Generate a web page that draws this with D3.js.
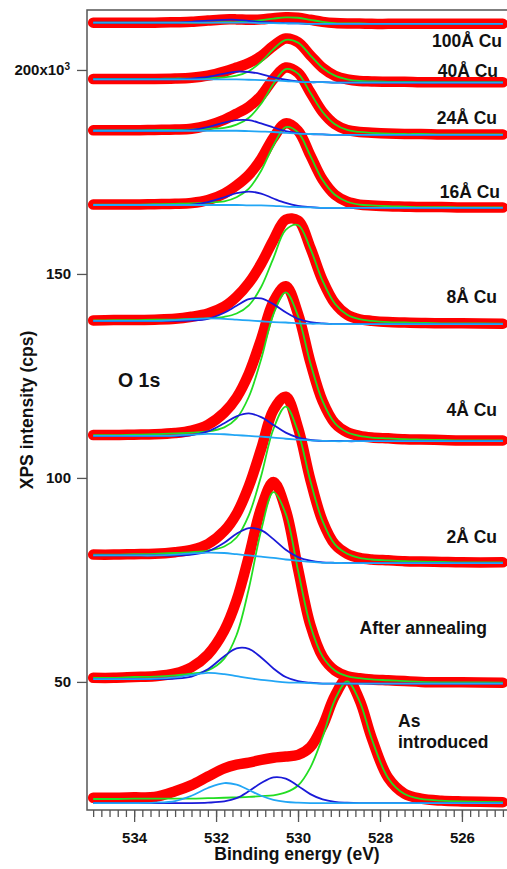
<!DOCTYPE html>
<html>
<head>
<meta charset="utf-8">
<script src="https://cdn.jsdelivr.net/npm/d3@7"></script>
<style>
  body { margin: 0; background: #fff; }
  text { font-family: "Liberation Sans", Arial, sans-serif; font-weight: bold; fill: #111; }
</style>
</head>
<body>
<svg id="chart" width="507" height="869"></svg>
<script>
// Binding energy grid (eV), shared by every trace
const energy = [535, 534.5, 534, 533.5, 533, 532.6, 532.2, 531.8, 531.5, 531.2, 530.9, 530.6, 530.3,
  530.0, 529.7, 529.4, 529.1, 528.8, 528.5, 528.2, 527.8, 527.4, 527.0, 526.5, 526.0, 525.0];

// spectra from bottom to top
const sampleLabels = ["As\nintroduced", "After annealing", "2Å Cu", "4Å Cu", "8Å Cu", "16Å Cu", "24Å Cu", "40Å Cu", "100Å Cu"];

// measured O 1s intensity (x10^3 cps)
const measured = [
  [21.6,21.6,21.7,21.8,23.2,24.7,26.8,28.8,29.7,30.2,30.9,31.4,31.7,32.1,34.0,39.2,46.6,50.8,45.6,36.2,26.5,22.6,21.4,20.9,20.7,20.5],
  [51.0,51.0,51.2,51.4,52.1,53.6,56.7,62.6,70.0,80.8,92.6,99.0,92.2,77.7,64.0,56.2,52.8,51.4,50.9,50.6,50.4,50.2,50.0,49.9,49.9,49.8],
  [81.2,81.2,81.3,81.4,81.8,82.4,83.8,87.0,91.2,98.0,107.1,116.6,119.9,112.3,99.6,89.4,83.7,81.4,80.4,80.0,79.8,79.6,79.5,79.4,79.3,79.3],
  [110.5,110.5,110.6,110.7,111.0,111.6,113.0,116.0,119.7,125.6,134.0,143.2,147.0,140.2,128.4,118.8,113.4,111.2,110.3,109.9,109.7,109.5,109.4,109.3,109.2,109.2],
  [138.6,138.7,138.7,138.8,139.0,139.5,140.3,142.0,144.4,147.8,152.5,158.3,163.3,163.1,156.5,148.4,142.8,140.0,138.9,138.5,138.2,138.1,138.0,137.9,137.9,137.8],
  [167.0,167.0,167.0,167.1,167.2,167.4,168.1,169.7,171.7,174.3,178.2,183.4,186.9,185.1,179.1,173.1,169.4,167.7,167.0,166.8,166.6,166.5,166.4,166.4,166.3,166.3],
  [185.2,185.2,185.2,185.3,185.4,185.6,186.4,187.8,189.3,191.0,193.7,197.8,200.6,199.3,194.5,189.7,186.7,185.3,184.8,184.6,184.4,184.3,184.3,184.2,184.2,184.2],
  [197.8,197.8,197.8,197.8,197.9,198.1,198.6,199.6,200.6,201.7,203.4,205.9,207.7,206.8,203.6,200.5,198.6,197.7,197.3,197.2,197.1,197.1,197.0,197.0,197.0,197.0],
  [211.6,211.6,211.6,211.6,211.7,211.8,212.1,212.4,212.4,212.3,212.4,212.7,212.9,212.8,212.3,211.8,211.5,211.4,211.4,211.3,211.3,211.3,211.3,211.3,211.3,211.3]
];

// main fitted component (green)
const mainPeak = [
  [21.3,21.3,21.4,21.4,21.4,21.4,21.5,21.6,21.7,21.8,22.0,22.2,22.9,24.6,29.0,36.5,45.6,50.1,45.3,36.0,26.4,22.5,21.3,20.9,20.7,20.5],
  [51.0,51.0,51.2,51.3,51.6,52.0,52.8,55.7,61.5,72.9,87.1,96.5,91.2,77.3,63.9,56.2,52.8,51.4,50.9,50.6,50.4,50.2,50.0,49.9,49.9,49.8],
  [81.2,81.2,81.3,81.4,81.6,81.8,82.2,83.2,85.4,90.9,100.5,112.0,117.5,111.3,99.3,89.4,83.7,81.4,80.4,80.0,79.8,79.6,79.5,79.4,79.3,79.3],
  [110.5,110.5,110.6,110.7,110.9,111.1,111.4,112.4,114.6,119.9,129.1,140.1,145.5,139.7,128.2,118.8,113.4,111.2,110.3,109.9,109.7,109.5,109.4,109.3,109.2,109.2],
  [138.6,138.7,138.7,138.8,138.8,139.0,139.1,139.5,140.3,142.3,146.8,153.9,160.8,162.0,156.2,148.3,142.7,140.0,138.9,138.5,138.2,138.1,138.0,137.9,137.9,137.8],
  [167.0,167.0,167.0,167.1,167.2,167.3,167.5,167.8,168.8,170.9,175.3,181.5,186.0,184.7,179.0,173.0,169.4,167.7,167.0,166.8,166.6,166.5,166.4,166.4,166.3,166.3],
  [185.2,185.2,185.2,185.3,185.3,185.4,185.6,185.8,186.6,188.3,191.7,196.6,200.2,199.1,194.4,189.7,186.7,185.3,184.8,184.6,184.4,184.3,184.3,184.2,184.2,184.2],
  [197.8,197.8,197.8,197.8,197.9,197.9,198.0,198.2,198.6,199.7,202.0,205.1,207.4,206.7,203.6,200.5,198.6,197.7,197.3,197.2,197.1,197.1,197.0,197.0,197.0,197.0],
  [211.6,211.6,211.6,211.6,211.6,211.6,211.6,211.7,211.7,211.9,212.2,212.6,212.9,212.8,212.3,211.8,211.5,211.4,211.4,211.3,211.3,211.3,211.3,211.3,211.3,211.3]
];

// second component (dark blue)
const secondPeak = [
  [20.3,20.3,20.3,20.3,20.3,20.3,20.4,20.7,21.5,23.2,25.2,26.6,26.3,24.5,22.5,21.2,20.6,20.4,20.3,20.3,20.3,20.3,20.3,20.3,20.3,20.3],
  [50.7,50.7,50.7,50.7,50.8,51.3,53.1,56.3,58.2,58.1,56.0,53.3,51.2,50.2,49.8,49.6,49.6,49.6,49.6,49.6,49.6,49.6,49.6,49.6,49.6,49.6],
  [81.0,81.0,81.0,81.0,81.0,81.2,82.0,84.1,86.3,87.7,87.2,85.0,82.4,80.6,79.7,79.3,79.2,79.1,79.1,79.1,79.1,79.1,79.1,79.1,79.1,79.1],
  [110.3,110.3,110.3,110.3,110.3,110.5,111.4,113.4,115.1,115.8,114.9,113.0,111.1,109.9,109.3,109.1,109.1,109.0,109.0,109.0,109.0,109.0,109.0,109.0,109.0,109.0],
  [138.5,138.5,138.5,138.5,138.5,138.6,139.0,140.5,142.2,143.8,144.0,142.6,140.6,139.0,138.2,137.9,137.7,137.7,137.7,137.7,137.7,137.7,137.7,137.7,137.7,137.7],
  [166.9,166.9,166.9,166.9,166.9,167.0,167.6,168.8,169.8,170.2,169.7,168.5,167.4,166.7,166.4,166.2,166.2,166.2,166.2,166.2,166.2,166.2,166.2,166.2,166.2,166.2],
  [185.1,185.1,185.1,185.1,185.1,185.3,186.0,187.1,187.7,187.7,186.9,185.9,185.0,184.5,184.3,184.2,184.1,184.1,184.1,184.1,184.1,184.1,184.1,184.1,184.1,184.1],
  [197.7,197.7,197.7,197.7,197.7,197.9,198.3,199.1,199.6,199.5,199.0,198.2,197.6,197.2,197.0,197.0,196.9,196.9,196.9,196.9,196.9,196.9,196.9,196.9,196.9,196.9],
  [211.6,211.6,211.6,211.6,211.6,211.8,212.1,212.3,212.3,212.0,211.8,211.6,211.5,211.4,211.3,211.3,211.3,211.3,211.3,211.3,211.3,211.3,211.3,211.3,211.3,211.3]
];

// background + small high-BE component (light blue)
const background = [
  [20.3,20.3,20.3,20.4,20.8,22.1,24.0,25.2,24.8,23.5,22.1,21.1,20.6,20.4,20.3,20.3,20.3,20.3,20.3,20.3,20.3,20.3,20.3,20.3,20.3,20.3],
  [50.7,50.7,50.7,50.8,51.1,51.7,52.2,51.9,51.4,50.9,50.5,50.2,49.9,49.8,49.7,49.6,49.6,49.6,49.6,49.6,49.6,49.6,49.6,49.6,49.6,49.6],
  [81.0,81.0,81.0,81.0,81.2,81.5,81.7,81.6,81.3,81.0,80.7,80.4,80.0,79.7,79.4,79.2,79.2,79.1,79.1,79.1,79.1,79.1,79.1,79.1,79.1,79.1],
  [110.3,110.3,110.3,110.3,110.4,110.6,110.8,110.7,110.5,110.3,110.1,109.9,109.6,109.4,109.2,109.1,109.0,109.0,109.0,109.0,109.0,109.0,109.0,109.0,109.0,109.0],
  [138.5,138.5,138.5,138.5,138.7,138.9,139.1,139.0,138.8,138.6,138.4,138.2,138.1,137.9,137.8,137.8,137.7,137.7,137.7,137.7,137.7,137.7,137.7,137.7,137.7,137.7],
  [166.9,166.9,166.9,166.9,166.9,166.9,166.9,166.9,166.9,166.8,166.8,166.7,166.5,166.4,166.3,166.2,166.2,166.2,166.2,166.2,166.2,166.2,166.2,166.2,166.2,166.2],
  [185.1,185.1,185.1,185.1,185.1,185.1,185.1,185.1,185.1,185.0,184.9,184.8,184.6,184.4,184.3,184.2,184.1,184.1,184.1,184.1,184.1,184.1,184.1,184.1,184.1,184.1],
  [197.7,197.7,197.7,197.7,197.7,197.7,197.7,197.7,197.7,197.6,197.5,197.4,197.3,197.1,197.0,197.0,196.9,196.9,196.9,196.9,196.9,196.9,196.9,196.9,196.9,196.9],
  [211.6,211.6,211.6,211.6,211.6,211.6,211.6,211.6,211.6,211.6,211.5,211.5,211.4,211.4,211.3,211.3,211.3,211.3,211.3,211.3,211.3,211.3,211.3,211.3,211.3,211.3]
];

const xTickLabels = [534, 532, 530, 528, 526];
const yTickLabels = [50, 100, 150, 200];

// ---- layout ----
const svg = d3.select("#chart");
const m = { left: 87, right: 507, top: 10, bottom: 810 };

const x = d3.scaleLinear().domain([535.15, 524.9]).range([m.left, m.right]);
const y = d3.scaleLinear().domain([18.6, 214.7]).range([m.bottom, m.top]);

const line = d3.line()
  .x((d, i) => x(energy[i]))
  .y(d => y(d))
  .curve(d3.curveCatmullRom.alpha(0.5));

const plot = svg.append("g");

// measured data first (thick red), fits on top
plot.selectAll(".data").data(measured).enter().append("path")
  .attr("d", line).attr("fill", "none")
  .attr("stroke", "#ff0000").attr("stroke-width", 10.5)
  .attr("stroke-linejoin", "round").attr("stroke-linecap", "round");

plot.selectAll(".main").data(mainPeak).enter().append("path")
  .attr("d", line).attr("fill", "none")
  .attr("stroke", "#22dd22").attr("stroke-width", 1.8);

plot.selectAll(".second").data(secondPeak).enter().append("path")
  .attr("d", line).attr("fill", "none")
  .attr("stroke", "#1a1ad8").attr("stroke-width", 1.8);

plot.selectAll(".bg").data(background).enter().append("path")
  .attr("d", line).attr("fill", "none")
  .attr("stroke", "#22a6f5").attr("stroke-width", 1.8);

// axes
const axisColor = "#555";

const xMinor = svg.append("g").attr("transform", `translate(0,${m.bottom})`)
  .call(d3.axisBottom(x).tickValues(d3.range(0, 51).map(i => 525 + i * 0.2))
    .tickSize(7).tickSizeOuter(0).tickFormat(""));
const xMajor = svg.append("g").attr("transform", `translate(0,${m.bottom})`)
  .call(d3.axisBottom(x).tickValues(xTickLabels).tickSize(12).tickSizeOuter(0).tickPadding(10));
xMajor.selectAll("text").attr("font-size", 15);

const yAxis = svg.append("g").attr("transform", `translate(${m.left},0)`)
  .call(d3.axisLeft(y).tickValues(yTickLabels).tickSize(10).tickSizeOuter(0).tickPadding(6)
    .tickFormat(d => d === 200 ? "" : d));
yAxis.selectAll("text").attr("font-size", 15);

[xMinor, xMajor, yAxis].forEach(g => {
  g.select(".domain").remove();
  g.selectAll("line").attr("stroke", axisColor).attr("stroke-width", 1.3);
  g.selectAll("text").attr("fill", "#111").attr("font-family", null);
});

// frame: top, left, bottom
svg.append("path")
  .attr("d", `M${m.right},${m.top}H${m.left}V${m.bottom}H${m.right}`)
  .attr("fill", "none").attr("stroke", axisColor).attr("stroke-width", 1.5);

// 200x10^3 label
const t200 = svg.append("text").attr("x", 70).attr("y", y(200)).attr("dy", "0.35em")
  .attr("text-anchor", "end").attr("font-size", 15).text("200x10");
t200.append("tspan").attr("dy", "-0.55em").attr("font-size", 10).text("3");

// axis titles
svg.append("text").attr("x", (m.left + m.right) / 2).attr("y", 860)
  .attr("text-anchor", "middle").attr("font-size", 17.5).text("Binding energy (eV)");
svg.append("text").attr("transform", `translate(33,${(m.top + m.bottom) / 2}) rotate(-90)`)
  .attr("text-anchor", "middle").attr("font-size", 17.5).text("XPS intensity (cps)");

svg.append("text").attr("x", 118).attr("y", 387).attr("font-size", 19.5).text("O 1s");

// sample labels
const labelLayout = [
  { x: 398, y: 727, anchor: "start" },
  { x: 487, y: 634, anchor: "end" },
  { x: 497, y: 543, anchor: "end" },
  { x: 497, y: 416, anchor: "end" },
  { x: 497, y: 303, anchor: "end" },
  { x: 500, y: 198, anchor: "end" },
  { x: 497, y: 124, anchor: "end" },
  { x: 498, y: 77, anchor: "end" },
  { x: 502, y: 47, anchor: "end" }
];

sampleLabels.forEach((lab, i) => {
  const pos = labelLayout[i];
  const t = svg.append("text").attr("x", pos.x).attr("y", pos.y)
    .attr("text-anchor", pos.anchor).attr("font-size", 17.5);
  lab.split("\n").forEach((part, j) => {
    t.append("tspan").attr("x", pos.x).attr("dy", j === 0 ? 0 : 21).text(part);
  });
});
</script>
</body>
</html>
